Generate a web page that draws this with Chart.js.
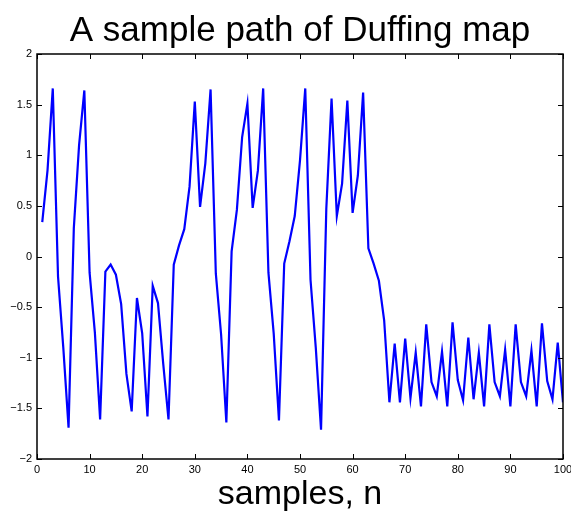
<!DOCTYPE html>
<html>
<head>
<meta charset="utf-8">
<script src="https://cdn.jsdelivr.net/npm/chart.js@4/dist/chart.umd.min.js"></script>
<style>
html,body{margin:0;padding:0;background:#fff;}
#wrap{width:571px;height:511px;}
</style>
</head>
<body>
<div id="wrap"><canvas id="c" width="571" height="511"></canvas></div>
<script>
const titleText = "A sample path of Duffing map";
const xTitle = "samples, n";
const samples = [1,2,3,4,5,6,7,8,9,10,11,12,13,14,15,16,17,18,19,20,
  21,22,23,24,25,26,27,28,29,30,31,32,33,34,35,36,37,38,39,40,
  41,42,43,44,45,46,47,48,49,50,51,52,53,54,55,56,57,58,59,60,
  61,62,63,64,65,66,67,68,69,70,71,72,73,74,75,76,77,78,79,80,
  81,82,83,84,85,86,87,88,89,90,91,92,93,94,95,96,97,98,99,100];
const values = [0.34,0.85,1.66,-0.2,-0.9,-1.69,0.28,1.1,1.64,-0.16,
  -0.75,-1.61,-0.15,-0.08,-0.18,-0.47,-1.16,-1.53,-0.41,-0.76,
  -1.58,-0.29,-0.46,-1.06,-1.61,-0.08,0.11,0.27,0.69,1.53,
  0.49,0.92,1.65,-0.17,-0.77,-1.64,0.05,0.46,1.18,1.51,
  0.48,0.85,1.66,-0.16,-0.76,-1.62,-0.07,0.15,0.4,0.95,
  1.66,-0.23,-0.9,-1.71,0.47,1.56,0.4,0.72,1.54,0.43,
  0.8,1.62,0.08,-0.07,-0.24,-0.63,-1.44,-0.86,-1.44,-0.81,
  -1.4,-0.95,-1.48,-0.67,-1.24,-1.38,-0.94,-1.48,-0.65,-1.22,
  -1.42,-0.8,-1.41,-0.95,-1.48,-0.67,-1.24,-1.38,-0.92,-1.48,
  -0.67,-1.24,-1.38,-0.93,-1.48,-0.66,-1.23,-1.41,-0.85,-1.44];
const xTicks = [0,10,20,30,40,50,60,70,80,90,100];
const yTicks = [-2,-1.5,-1,-0.5,0,0.5,1,1.5,2];

const FONT = "'Liberation Sans', Arial, Helvetica, sans-serif";

const boxTicks = {
  id: 'boxTicks',
  afterDraw(chart) {
    const {ctx, chartArea: a, scales} = chart;
    const L = 5;
    ctx.save();
    ctx.strokeStyle = '#000';
    ctx.lineWidth = 1;
    ctx.beginPath();
    xTicks.forEach(v => {
      const px = Math.round(scales.x.getPixelForValue(v)) + 0.5;
      ctx.moveTo(px, a.bottom); ctx.lineTo(px, a.bottom - L);
      ctx.moveTo(px, a.top); ctx.lineTo(px, a.top + L);
    });
    yTicks.forEach(v => {
      const py = Math.round(scales.y.getPixelForValue(v)) + 0.5;
      ctx.moveTo(a.left, py); ctx.lineTo(a.left + L, py);
      ctx.moveTo(a.right, py); ctx.lineTo(a.right - L, py);
    });
    ctx.stroke();
    ctx.lineWidth = 1.5;
    ctx.strokeRect(a.left, a.top, a.right - a.left, a.bottom - a.top);
    ctx.restore();
  }
};

const fmt = v => {
  const s = String(Math.abs(v));
  return v < 0 ? '\u2212' + s : s;
};

new Chart(document.getElementById('c'), {
  type: 'line',
  data: {
    labels: samples,
    datasets: [{
      data: samples.map((n, i) => ({x: n, y: values[i]})),
      borderColor: '#0000ff',
      borderWidth: 2.2,
      pointRadius: 0,
      tension: 0,
      fill: false
    }]
  },
  options: {
    responsive: false,
    animation: false,
    devicePixelRatio: 1,
    layout: {padding: {left: 0, right: 8, top: 0, bottom: 0}},
    plugins: {
      legend: {display: false},
      tooltip: {enabled: false},
      title: {
        display: true,
        fullSize: false,
        text: titleText,
        color: '#000',
        font: {family: FONT, size: 35, weight: 'normal'},
        padding: {top: 10, bottom: 2}
      }
    },
    scales: {
      x: {
        type: 'linear',
        min: 0, max: 100,
        afterBuildTicks: s => { s.ticks = xTicks.map(v => ({value: v})); },
        afterFit: s => { s.height = 52; s.paddingLeft = 0; s.paddingRight = 0; },
        grid: {display: false, drawTicks: false},
        border: {display: false},
        ticks: {
          color: '#000',
          font: {family: FONT, size: 11},
          padding: 4,
          maxRotation: 0,
          autoSkip: false,
          callback: v => fmt(v)
        },
        title: {
          display: true,
          text: xTitle,
          color: '#000',
          font: {family: FONT, size: 34},
          padding: {top: 0, bottom: -4}
        }
      },
      y: {
        type: 'linear',
        min: -2, max: 2,
        afterBuildTicks: s => { s.ticks = yTicks.map(v => ({value: v})); },
        afterFit: s => { s.width = 37; s.paddingTop = 0; s.paddingBottom = 0; },
        grid: {display: false, drawTicks: false},
        border: {display: false},
        ticks: {
          color: '#000',
          font: {family: FONT, size: 11},
          padding: 5,
          autoSkip: false,
          callback: v => fmt(v)
        }
      }
    }
  },
  plugins: [boxTicks]
});
</script>
</body>
</html>
